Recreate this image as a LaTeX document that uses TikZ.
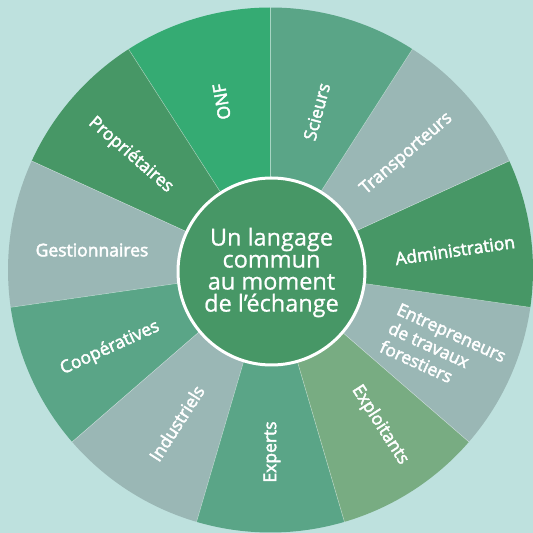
\documentclass[tikz,border=0pt]{standalone}
\usepackage{fontspec}
\setmainfont{Open Sans}
\newfontfamily\labfont{Open Sans}[FakeBold=2.6]
\newfontfamily\hubfont{Open Sans}[FakeBold=0.8]
\definecolor{bg}{HTML}{BEE1DE}
\definecolor{onfc}{HTML}{35AB73}
\definecolor{midg}{HTML}{5AA587}
\definecolor{greyg}{HTML}{9AB7B5}
\definecolor{darkg}{HTML}{479766}
\definecolor{lightg}{HTML}{78AC82}
\tikzset{
  lab/.style={text=white, font=\labfont\fontsize{17.5}{20.5}\selectfont, inner sep=0pt},
  sep/.style={draw=white, draw opacity=0.45, line width=0.5pt},
  hub/.style={circle, fill=darkg, draw=white, line width=3pt, minimum size=187pt, inner sep=0pt},
  hubtext/.style={text=white, align=center, font=\hubfont\fontsize{23.5}{22}\selectfont, inner sep=0pt}
}
\begin{document}
\begin{tikzpicture}[x=1pt,y=1pt]
\useasboundingbox (0,0) rectangle (533,533);
\fill[bg] (0,0) rectangle (533,533);
\coordinate (C) at (270.5,263);
\foreach \i/\col in {0/onfc,1/darkg,2/greyg,3/midg,4/greyg,5/midg,6/lightg,7/greyg,8/darkg,9/greyg,10/midg}{
  \pgfmathsetmacro\a{90+\i*32.72727}
  \pgfmathsetmacro\b{90+(\i+1)*32.72727}
  \fill[\col] (C) -- ++(\a:262.5pt) arc[start angle=\a, end angle=\b, radius=262.5pt] -- cycle;
}
\foreach \i in {0,...,10}{
  \pgfmathsetmacro\a{90+\i*32.72727}
  \draw[sep] (C) -- ++(\a:262.5pt);
}
\node[hub] (hub) at (271.5,261.5) {};
\node[hubtext] (hubt) at ([yshift=-1pt]hub.center) {Un langage\\commun\\au moment\\de l’échange};
\node[lab, rotate=100] (onf) at (221.7,431.3) {ONF};
\node[lab, rotate=75] (scieurs) at (316.7,421.3) {Scieurs};
\node[lab, rotate=40.9] (transp) at (406.7,379) {Transporteurs};
\node[lab, rotate=8.2] (admin) at (455,283) {Administration};
\node[lab, rotate=-24.5, align=left] (entre) at (443,181.6) {Entrepreneurs\\de travaux\\forestiers};
\node[lab, rotate=-57.3] (exploit) at (380,108) {Exploitants};
\node[lab, rotate=90] (experts) at (272,81) {Experts};
\node[lab, rotate=57.3] (indus) at (176.7,109.7) {Industriels};
\node[lab, rotate=24.5] (coop) at (110,185) {Coopératives};
\node[lab] (gest) at (92,283) {Gestionnaires};
\node[lab, rotate=-40.9] (propr) at (130.8,378) {Propriétaires};
\end{tikzpicture}
\end{document}
